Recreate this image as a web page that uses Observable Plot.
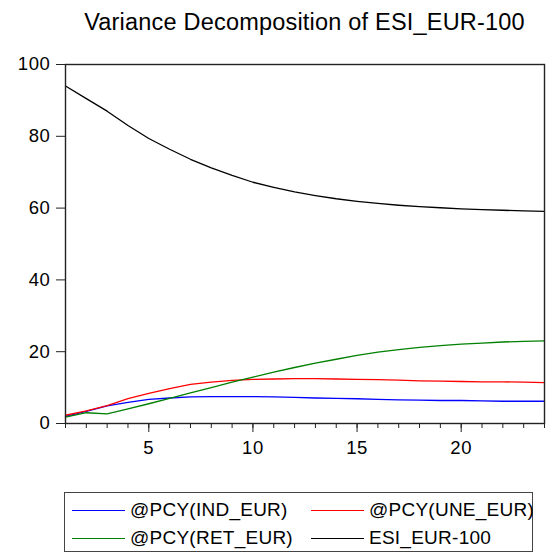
<!DOCTYPE html>
<html><head><meta charset="utf-8">
<script src="https://cdn.jsdelivr.net/npm/d3@7"></script>
<script src="https://cdn.jsdelivr.net/npm/@observablehq/plot@0.6"></script>
<style>
body{margin:0;background:#fff;font-family:"Liberation Sans",Arial,sans-serif;}
#wrap{position:relative;width:550px;height:553px;overflow:hidden;}
#title{position:absolute;left:65px;width:479px;top:9px;text-align:center;font-size:23.5px;line-height:27px;letter-spacing:0.2px;color:#000;white-space:nowrap;}
#chart{position:absolute;left:0;top:50px;}
#chart svg text{letter-spacing:0.6px;}
#legend{position:absolute;left:64px;top:492px;width:469px;height:60px;border:1px solid #444;box-sizing:border-box;}
.item{position:absolute;font-size:19px;line-height:20px;letter-spacing:0.25px;color:#000;white-space:nowrap;}
.sw{position:absolute;height:0;border-top:1.5px solid;}
</style></head>
<body><div id="wrap">
<div id="title">Variance Decomposition of ESI_EUR-100</div>
<div id="chart"></div>
<div id="legend"></div>
</div>
<script>
const periods = d3.range(1, 25);
const seriesNames = ["@PCY(IND_EUR)", "@PCY(UNE_EUR)", "@PCY(RET_EUR)", "ESI_EUR-100"];
const seriesColors = ["#0000ff", "#ff0000", "#008000", "#000000"];
const indEur = [2.0,3.4,4.9,5.9,6.7,7.1,7.4,7.5,7.5,7.5,7.4,7.3,7.1,7.0,6.9,6.7,6.6,6.5,6.4,6.4,6.3,6.2,6.2,6.2];
const uneEur = [2.3,3.5,5.0,6.9,8.4,9.7,10.9,11.5,12.0,12.3,12.4,12.5,12.5,12.4,12.3,12.2,12.1,11.9,11.8,11.7,11.6,11.6,11.5,11.4];
const retEur = [1.8,3.0,2.7,4.1,5.5,7.0,8.5,10.0,11.5,12.9,14.3,15.6,16.8,17.9,19.0,19.9,20.6,21.2,21.7,22.1,22.4,22.7,22.9,23.0];
const esiEur = [94.0,90.5,87.0,83.0,79.4,76.4,73.6,71.2,69.1,67.2,65.8,64.5,63.5,62.6,61.9,61.3,60.8,60.4,60.1,59.8,59.6,59.4,59.2,59.1];
const yTicks = [0,20,40,60,80,100];
const xLabelTicks = [5,10,15,20];

const allSeries = [indEur, uneEur, retEur, esiEur];
const data = [];
allSeries.forEach((vals, i) => vals.forEach((v, j) => data.push({t: periods[j], v, s: seriesNames[i]})));

const chart = Plot.plot({
  width: 550, height: 430,
  marginLeft: 65, marginRight: 6, marginTop: 14, marginBottom: 57,
  style: {fontFamily: '"Liberation Sans", Arial, sans-serif', fontSize: "18.5px", color: "#000", background: "#fff"},
  x: {domain: [1, 24]},
  y: {domain: [0, 100]},
  color: {domain: seriesNames, range: seriesColors},
  marks: [
    Plot.line(data, {x: "t", y: "v", z: "s", stroke: "s", strokeWidth: 1.3}),
    Plot.frame({stroke: "#222", strokeWidth: 1.4}),
    Plot.axisY({ticks: yTicks, tickSize: 9, tickPadding: 6, label: null, fontSize: 18.5, stroke: "#222"}),
    Plot.axisX({ticks: periods, tickSize: 5, tickFormat: () => "", label: null, stroke: "#222"}),
    Plot.axisX({ticks: xLabelTicks, tickSize: 9, tickPadding: 8, label: null, fontSize: 18.5, stroke: "#222"})
  ]
});
document.getElementById("chart").appendChild(chart);

const legend = document.getElementById("legend");
const pos = [[7, 7], [246, 7], [7, 35], [246, 35]];
seriesNames.forEach((name, i) => {
  const [lx, ly] = pos[i];
  const sw = document.createElement("div");
  sw.className = "sw";
  sw.style.left = lx + "px"; sw.style.width = "53px"; sw.style.top = (ly + 10) + "px";
  sw.style.borderTopColor = seriesColors[i];
  legend.appendChild(sw);
  const tx = document.createElement("div");
  tx.className = "item";
  tx.style.left = (lx + 58) + "px"; tx.style.top = ly + "px";
  tx.textContent = name;
  legend.appendChild(tx);
});
</script>
</body></html>
